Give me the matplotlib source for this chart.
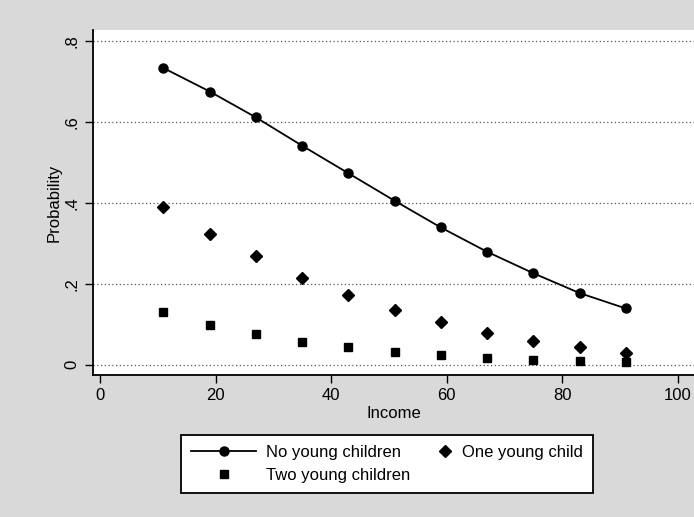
import numpy as np
import matplotlib.pyplot as plt
from matplotlib.legend_handler import HandlerLine2D

plt.rcParams['font.family'] = ['Liberation Sans', 'DejaVu Sans']

# predicted probabilities by income
income = [11, 19, 27, 35, 43, 51, 59, 67, 75, 83, 91]
p_none = [0.733, 0.675, 0.611, 0.541, 0.473, 0.405, 0.339, 0.279, 0.226, 0.177, 0.139]
p_one = [0.389, 0.324, 0.268, 0.215, 0.172, 0.136, 0.105, 0.079, 0.058, 0.044, 0.030]
p_two = [0.130, 0.099, 0.076, 0.057, 0.043, 0.032, 0.024, 0.017, 0.012, 0.009, 0.006]

yticks = [0, 0.2, 0.4, 0.6, 0.8]
ytick_labels = ["0", ".2", ".4", ".6", ".8"]
xticks = [0, 20, 40, 60, 80, 100]


class RightMarker(HandlerLine2D):
    # put the marker at the right end of the key, next to its text
    def get_xdata(self, legend, xdescent, ydescent, width, height, fontsize):
        xm = -xdescent + width - 0.45 * fontsize
        return np.array([xm - 0.1, xm + 0.1]), np.array([xm])


fig = plt.figure(figsize=(6.94, 5.17), dpi=100, facecolor='#d9d9d9')
ax = fig.add_axes([0.134, 0.275, 0.866, 0.667])
ax.set_facecolor('white')

ax.plot(income, p_none, color='black', lw=1.3, marker='o', ms=6.5,
        label="No young children")
ax.plot(income, p_one, ls='none', marker='D', ms=6, mfc='black', mec='black',
        label="One young child")
ax.plot(income, p_two, ls='none', marker='s', ms=5.5, mfc='black', mec='black',
        label="Two young children")

ax.set_xlim(-1.2, 102.8)
ax.set_ylim(-0.025, 0.827)
ax.set_xticks(xticks)
ax.set_yticks(yticks)
ax.set_yticklabels(ytick_labels, rotation=90, va='center')
ax.tick_params(labelsize=12, length=6, width=1, direction='out')
ax.grid(axis='y', color='#555555', ls=(0, (1, 2)), lw=0.9)
ax.set_axisbelow(True)

for s in ['top', 'right']:
    ax.spines[s].set_visible(False)
ax.spines['left'].set_linewidth(1.3)
ax.spines['bottom'].set_linewidth(1.3)

ax.set_xlabel("Income", fontsize=12, labelpad=2)
ax.set_ylabel("Probability", fontsize=12, labelpad=2)

h, l = ax.get_legend_handles_labels()
leg = fig.legend([h[0], h[2], h[1]], [l[0], l[2], l[1]], ncol=2,
                 loc='center', bbox_to_anchor=(0.558, 0.1025), fontsize=12,
                 frameon=True, fancybox=False, edgecolor='black', facecolor='white',
                 framealpha=1, handlelength=3.9, handletextpad=0.6,
                 columnspacing=-1.4, borderpad=0.6, labelspacing=0.45,
                 handler_map={h[1]: RightMarker()})
leg.get_frame().set_linewidth(1.3)

fig.savefig("out.png", dpi=100, facecolor=fig.get_facecolor())
